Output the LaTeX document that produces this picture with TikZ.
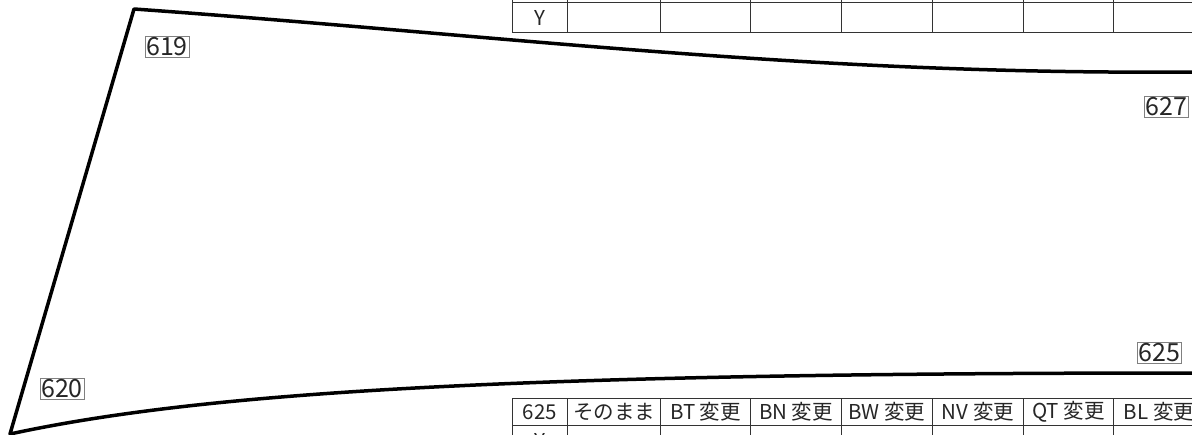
\documentclass[tikz,border=0pt]{standalone}
\usepackage{fontspec}
\setmainfont{Noto Sans CJK JP}
\begin{document}
\begin{tikzpicture}[x=1pt,y=-1pt,
    outline/.style={line width=3.5pt, line join=round, black},
    tag/.style={draw=gray, line width=0.8pt, inner sep=1.2pt, text=black!85, font=\fontsize{25}{25}\selectfont},
    cell/.style={draw=black!80, line width=1pt, inner sep=0pt, anchor=north west, text=black!85, font=\fontsize{20.5}{20.5}\selectfont}]
    \useasboundingbox (0,0) rectangle (1192,434);
    \clip (0,0) rectangle (1192,434);
    % outline
    \coordinate (tl) at (134,9);
    \coordinate (bl) at (10,434);
    \draw[outline] (1200,72) -- (1192,72) .. controls (800,75) and (500,35) .. (tl) -- (bl)
        .. controls (200,393) and (500,373) .. (1192,373) -- (1200,373);
    % labels
    \node[tag] (l619) at (167,47) {619};
    \node[tag] (l620) at (62,389) {620};
    \node[tag, anchor=west] (l627) at (1144,107) {627};
    \node[tag, anchor=west] (l625) at (1137,353) {625};
    % top table
    \foreach \x/\w [count=\c] in {512/55,567/93,660/90,750/91,841/91,932/91,1023/90,1113/91} {
        \node[cell, minimum width=\w pt, minimum height=30pt] (t1-\c) at (\x,-28) {};
        \node[cell, minimum width=\w pt, minimum height=30pt] (t2-\c) at (\x,2) {};
    }
    \node at (t2-1.center) {\fontsize{20.5}{20.5}\selectfont\color{black!85}Y};
    % bottom table
    \foreach \x/\w/\t [count=\c] in {512/55/625,567/93/そのまま,660/90/BT 変更,750/91/BN 変更,
        841/91/BW 変更,932/91/NV 変更,1023/90/QT 変更,1113/91/BL 変更} {
        \node[cell, minimum width=\w pt, minimum height=27pt] (b1-\c) at (\x,398) {\t};
        \node[cell, minimum width=\w pt, minimum height=30pt] (b2-\c) at (\x,425) {};
    }
    \node at (b2-1.center) {\fontsize{20.5}{20.5}\selectfont\color{black!85}Y};
\end{tikzpicture}
\end{document}
